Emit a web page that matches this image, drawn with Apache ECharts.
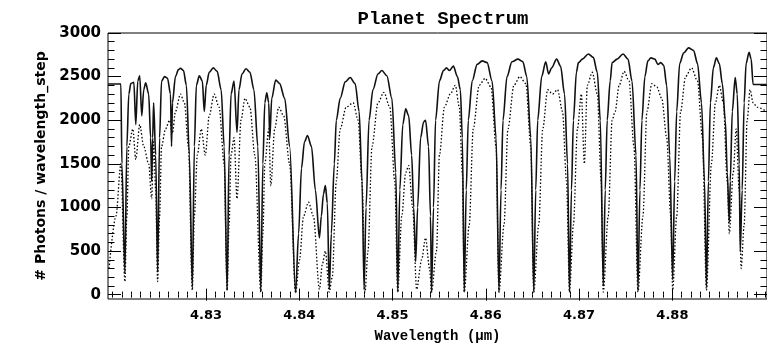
<!DOCTYPE html>
<html>
<head>
<meta charset="utf-8">
<script src="https://cdn.jsdelivr.net/npm/echarts@6/dist/echarts.min.js"></script>
<style>
  html, body { margin: 0; padding: 0; background: #fff; }
  #chart { width: 767px; height: 348px; }
</style>
</head>
<body>
<div id="chart"></div>
<script>
// axis ticks
var xMajor = [4.83, 4.84, 4.85, 4.86, 4.87, 4.88];
var yMajor = [0, 500, 1000, 1500, 2000, 2500, 3000];

// model spectrum (solid line)
var solidWave = [
  4.81950, 4.82088, 4.82099, 4.82131, 4.82152, 4.82173, 4.82195, 4.82227, 4.82248, 4.82269,
  4.82290, 4.82312, 4.82333, 4.82354, 4.82386, 4.82407, 4.82418, 4.82429, 4.82439, 4.82461,
  4.82482, 4.82503, 4.82524, 4.82556, 4.82588, 4.82620, 4.82631, 4.82641, 4.82673, 4.82705,
  4.82727, 4.82759, 4.82790, 4.82822, 4.82854, 4.82876, 4.82897, 4.82929, 4.82961, 4.82982,
  4.83003, 4.83035, 4.83078, 4.83120, 4.83163, 4.83195, 4.83227, 4.83248, 4.83269, 4.83301,
  4.83333, 4.83354, 4.83386, 4.83429, 4.83471, 4.83514, 4.83556, 4.83588, 4.83610, 4.83631,
  4.83652, 4.83673, 4.83684, 4.83705, 4.83748, 4.83790, 4.83844, 4.83897, 4.83961, 4.83993,
  4.84024, 4.84056, 4.84088, 4.84131, 4.84173, 4.84216, 4.84237, 4.84259, 4.84280, 4.84301,
  4.84322, 4.84344, 4.84376, 4.84397, 4.84439, 4.84493, 4.84546, 4.84599, 4.84642, 4.84673,
  4.84695, 4.84716, 4.84748, 4.84790, 4.84844, 4.84886, 4.84939, 4.84993, 4.85035, 4.85056,
  4.85078, 4.85110, 4.85141, 4.85173, 4.85205, 4.85227, 4.85248, 4.85269, 4.85301, 4.85333,
  4.85354, 4.85386, 4.85407, 4.85418, 4.85439, 4.85461, 4.85503, 4.85546, 4.85578, 4.85610,
  4.85652, 4.85695, 4.85727, 4.85748, 4.85769, 4.85790, 4.85812, 4.85854, 4.85907, 4.85961,
  4.86014, 4.86067, 4.86110, 4.86141, 4.86163, 4.86184, 4.86227, 4.86280, 4.86344, 4.86397,
  4.86439, 4.86482, 4.86514, 4.86535, 4.86556, 4.86599, 4.86642, 4.86673, 4.86705, 4.86759,
  4.86801, 4.86844, 4.86876, 4.86897, 4.86918, 4.86939, 4.86971, 4.86993, 4.87035, 4.87099,
  4.87152, 4.87195, 4.87227, 4.87259, 4.87280, 4.87301, 4.87333, 4.87354, 4.87407, 4.87471,
  4.87524, 4.87567, 4.87610, 4.87631, 4.87652, 4.87673, 4.87705, 4.87737, 4.87769, 4.87812,
  4.87844, 4.87876, 4.87907, 4.87939, 4.87971, 4.88003, 4.88024, 4.88046, 4.88078, 4.88120,
  4.88173, 4.88227, 4.88269, 4.88312, 4.88344, 4.88365, 4.88386, 4.88407, 4.88439, 4.88471,
  4.88503, 4.88535, 4.88567, 4.88588, 4.88610, 4.88620, 4.88642, 4.88673, 4.88695, 4.88716,
  4.88727, 4.88748, 4.88769, 4.88790, 4.88822, 4.88844, 4.88865, 4.89010
];
var solidFlux = [
  2415, 2415, 1500, 250, 1700, 2300, 2420, 2435, 1950, 2450,
  2510, 2050, 2350, 2430, 2300, 1800, 1300, 1800, 2200, 1600,
  260, 1800, 2450, 2500, 2480, 2300, 1700, 2200, 2500, 2580,
  2595, 2570, 2400, 1600, 90, 1700, 2400, 2510, 2450, 2100,
  2400, 2550, 2600, 2560, 2350, 1700, 50, 1600, 2300, 2450,
  1860, 2350, 2530, 2590, 2550, 2350, 1700, 35, 1500, 2200,
  2315, 2200, 1790, 2250, 2460, 2420, 2250, 1700, 25, 700,
  1450, 1750, 1825, 1700, 1200, 650, 900, 1150, 1250, 1050,
  60, 700, 1500, 2000, 2250, 2440, 2490, 2420, 2100, 1300,
  55, 1000, 2000, 2350, 2530, 2570, 2510, 2250, 1400, 30,
  1200, 1950, 2130, 2050, 1600, 1000, 380, 1000, 1800, 1980,
  2000, 1700, 900, 30, 1000, 2000, 2450, 2570, 2600, 2570,
  2620, 2500, 2350, 1800, 30, 1200, 2000, 2450, 2640, 2680,
  2660, 2450, 1800, 30, 1200, 2000, 2500, 2670, 2700, 2670,
  2500, 1800, 30, 1200, 2000, 2500, 2670, 2530, 2600, 2700,
  2620, 2300, 1500, 30, 1200, 2000, 2550, 2660, 2700, 2760,
  2720, 2550, 2000, 100, 1200, 2000, 2450, 2660, 2700, 2760,
  2700, 2450, 1600, 50, 1200, 2000, 2500, 2680, 2715, 2700,
  2640, 2660, 2630, 2400, 1600, 170, 1300, 2100, 2650, 2770,
  2830, 2800, 2650, 2200, 1300, 90, 1300, 2200, 2600, 2715,
  2650, 2420, 2000, 1400, 830, 1300, 2100, 2490, 2300, 1500,
  490, 1200, 2200, 2650, 2780, 2700, 2410, 2410
];

// observed spectrum (dotted line)
var dottedWave = [
  4.81961, 4.82035, 4.82088, 4.82131, 4.82152, 4.82173, 4.82216, 4.82248, 4.82290, 4.82333,
  4.82386, 4.82418, 4.82439, 4.82461, 4.82482, 4.82503, 4.82524, 4.82567, 4.82610, 4.82641,
  4.82673, 4.82727, 4.82769, 4.82812, 4.82854, 4.82876, 4.82907, 4.82950, 4.82993, 4.83035,
  4.83088, 4.83141, 4.83195, 4.83227, 4.83248, 4.83269, 4.83301, 4.83333, 4.83376, 4.83418,
  4.83471, 4.83524, 4.83588, 4.83610, 4.83631, 4.83673, 4.83695, 4.83737, 4.83780, 4.83833,
  4.83897, 4.83961, 4.84003, 4.84046, 4.84099, 4.84152, 4.84216, 4.84248, 4.84280, 4.84322,
  4.84354, 4.84397, 4.84439, 4.84503, 4.84578, 4.84631, 4.84673, 4.84705, 4.84737, 4.84780,
  4.84844, 4.84907, 4.84971, 4.85024, 4.85056, 4.85099, 4.85141, 4.85173, 4.85216, 4.85258,
  4.85312, 4.85354, 4.85397, 4.85418, 4.85471, 4.85503, 4.85556, 4.85620, 4.85673, 4.85716,
  4.85748, 4.85769, 4.85822, 4.85865, 4.85929, 4.85993, 4.86056, 4.86110, 4.86141, 4.86195,
  4.86237, 4.86301, 4.86365, 4.86429, 4.86482, 4.86514, 4.86567, 4.86610, 4.86663, 4.86716,
  4.86769, 4.86822, 4.86865, 4.86897, 4.86939, 4.86982, 4.87024, 4.87056, 4.87088, 4.87141,
  4.87195, 4.87237, 4.87259, 4.87312, 4.87354, 4.87386, 4.87429, 4.87482, 4.87535, 4.87588,
  4.87631, 4.87684, 4.87727, 4.87780, 4.87833, 4.87886, 4.87939, 4.87982, 4.88003, 4.88046,
  4.88088, 4.88141, 4.88205, 4.88269, 4.88322, 4.88365, 4.88418, 4.88461, 4.88503, 4.88546,
  4.88588, 4.88610, 4.88652, 4.88684, 4.88716, 4.88737, 4.88769, 4.88801, 4.88833, 4.88865,
  4.88907, 4.89010
];
var dottedFlux = [
  300, 900, 1500, 150, 900, 1700, 1900, 1550, 1950, 1700,
  1500, 1100, 1750, 1200, 150, 900, 1700, 1900, 2000, 1850,
  2100, 2300, 2200, 1700, 50, 900, 1600, 1900, 1600, 2050,
  2300, 2150, 1500, 50, 800, 1600, 1800, 1100, 2000, 2250,
  2150, 1600, 30, 700, 1500, 1900, 1250, 1900, 2150, 2050,
  1500, 20, 400, 900, 1060, 900, 60, 350, 500, 30,
  200, 1300, 1900, 2150, 2200, 2000, 1300, 30, 500, 1700,
  2200, 2320, 2150, 1300, 30, 900, 1400, 1480, 1000, 60,
  400, 650, 300, 30, 500, 1600, 2150, 2300, 2400, 2150,
  1400, 30, 800, 1900, 2400, 2480, 2380, 1700, 30, 800,
  1900, 2400, 2500, 2420, 1700, 30, 800, 1900, 2350, 2300,
  2350, 2100, 1300, 30, 800, 1900, 2300, 1500, 2400, 2550,
  2300, 1300, 30, 900, 2000, 2100, 2400, 2560, 2450, 1700,
  30, 900, 2100, 2420, 2380, 2250, 1800, 900, 50, 900,
  2100, 2500, 2600, 2450, 1800, 50, 1500, 2200, 2400, 2200,
  1300, 700, 1400, 1900, 1200, 300, 800, 2000, 2350, 2200,
  2150, 2100
];

function zip(a, b) {
  var out = [];
  for (var i = 0; i < a.length; i++) out.push([a[i], b[i]]);
  return out;
}

// minor tick positions
var xMinor = [];
for (var i = 4820; i <= 4890; i++) xMinor.push(i / 1000);
var yMinor = [];
for (var v = 0; v <= 3000; v += 100) yMinor.push(v);

var xMin = 4.8195, xMax = 4.89014;
var yMin = -50, yMax = 3000;
var labelFont = 'DejaVu Sans';

function xAx(pos, ticks, len, labels) {
  return {
    type: 'value', position: pos, min: xMin, max: xMax,
    axisLine: { show: false },
    splitLine: { show: false },
    axisTick: { show: true, inside: true, length: len, customValues: ticks,
      lineStyle: { color: '#000', width: 1 } },
    axisLabel: labels ? {
      show: true, customValues: xMajor, margin: 10,
      color: '#000', fontFamily: labelFont, fontWeight: 'bold', fontSize: 13,
      formatter: function (v) { return v.toFixed(2); }
    } : { show: false }
  };
}
function yAx(pos, ticks, len, labels) {
  return {
    type: 'value', position: pos, min: yMin, max: yMax,
    axisLine: { show: false },
    splitLine: { show: false },
    axisTick: { show: true, inside: true, length: len, customValues: ticks,
      lineStyle: { color: '#000', width: 1 } },
    axisLabel: labels ? {
      show: true, customValues: yMajor, margin: 7,
      color: '#000', fontFamily: labelFont, fontWeight: 'bold', fontSize: 15,
      formatter: function (v) { return String(Math.round(v)); }
    } : { show: false }
  };
}

var chart = echarts.init(document.getElementById('chart'));
var xMain = xAx('bottom', xMajor, 6, true);
xMain.name = 'Wavelength (\u03bcm)';
xMain.nameLocation = 'middle';
xMain.nameGap = 30;
xMain.nameTextStyle = { color: '#000', fontFamily: 'Liberation Mono', fontWeight: 'bold', fontSize: 14 };
var yMain = yAx('left', yMajor, 13, true);
yMain.name = '# Photons / wavelength_step';
yMain.nameLocation = 'middle';
yMain.nameGap = 57;
yMain.nameTextStyle = { color: '#000', fontFamily: labelFont, fontWeight: 'bold', fontSize: 14 };

var option = {
  backgroundColor: '#fff',
  animation: false,
  title: {
    text: 'Planet Spectrum',
    left: 438, top: 5, textAlign: 'center',
    textStyle: { color: '#000', fontFamily: 'Liberation Mono', fontWeight: 'bold', fontSize: 19 }
  },
  grid: { left: 108, top: 33, width: 664, height: 269, show: true,
    borderColor: '#000', borderWidth: 1, backgroundColor: 'transparent' },
  xAxis: [
    xMain,
    xAx('bottom', xMinor, 3, false),
    xAx('top', xMajor, 6, false),
    xAx('top', xMinor, 3, false)
  ],
  yAxis: [
    yMain,
    yAx('left', yMinor, 6.5, false),
    yAx('right', yMajor, 13, false),
    yAx('right', yMinor, 6.5, false)
  ],
  series: [
    {
      name: 'observed', type: 'line', xAxisIndex: 0, yAxisIndex: 0,
      data: zip(dottedWave, dottedFlux),
      symbol: 'none', smooth: 0.3, smoothMonotone: 'x',
      lineStyle: { color: '#000', width: 1.3, type: [1.5, 2] }
    },
    {
      name: 'model', type: 'line', xAxisIndex: 0, yAxisIndex: 0,
      data: zip(solidWave, solidFlux),
      symbol: 'none', smooth: 0.3, smoothMonotone: 'x',
      lineStyle: { color: '#111', width: 1.6 }
    }
  ]
};
chart.setOption(option);
</script>
</body>
</html>
